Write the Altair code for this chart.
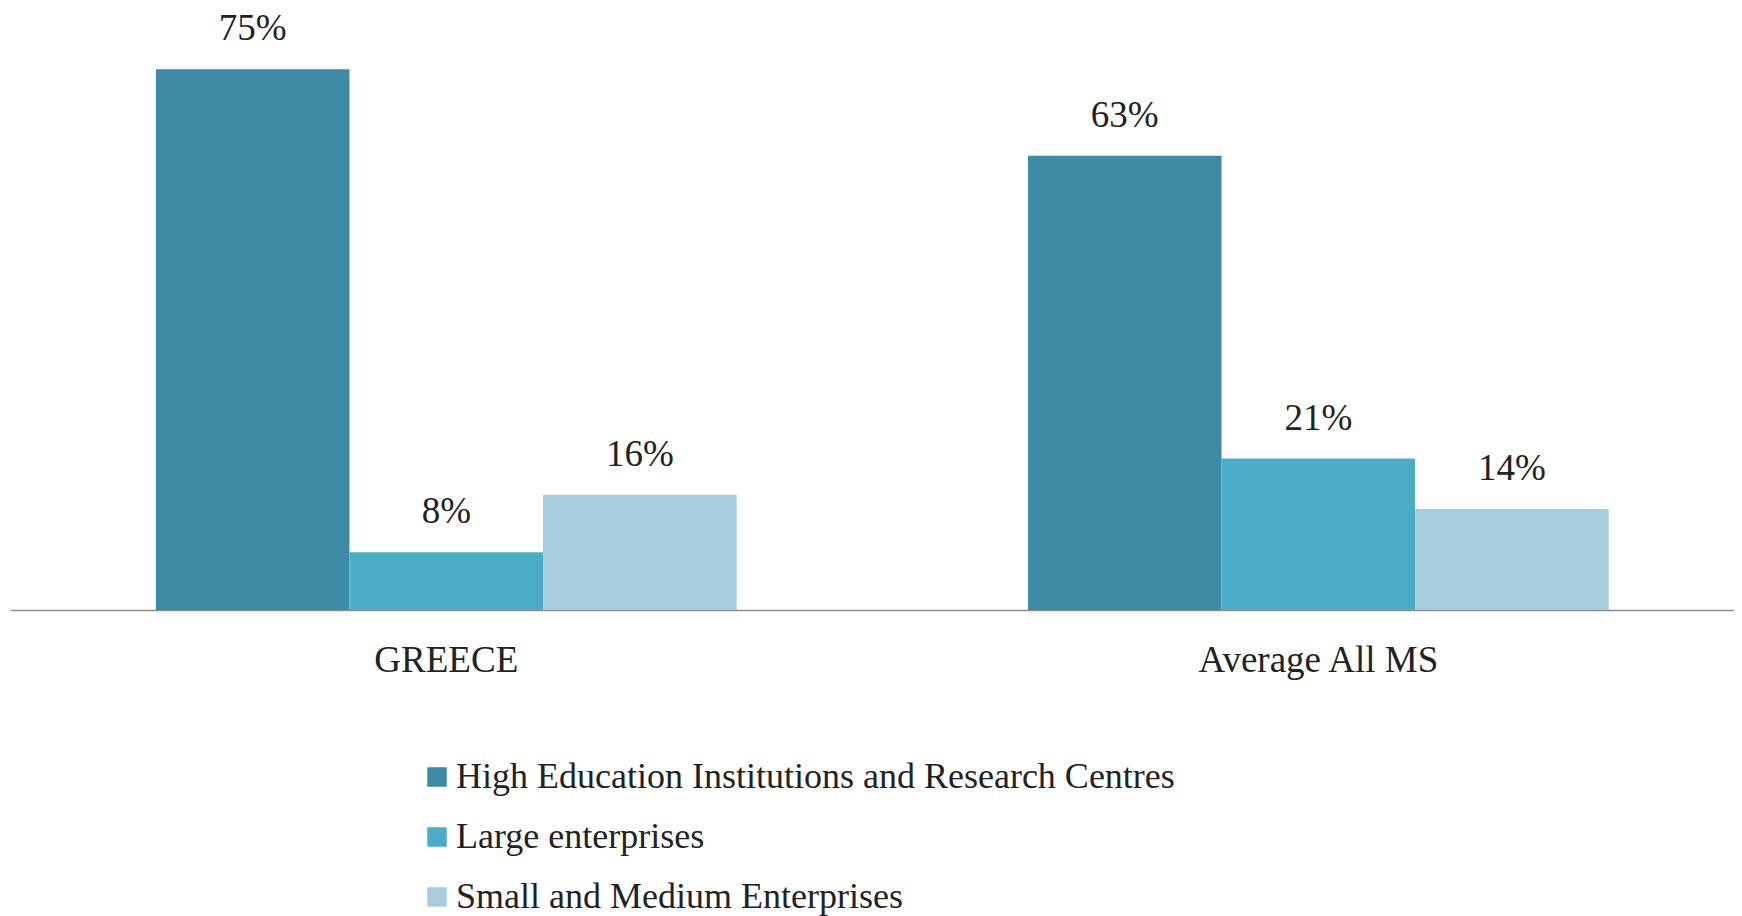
import altair as alt
import pandas as pd

groups = ["GREECE", "Average All MS"]
series = [
    "High Education Institutions and Research Centres",
    "Large enterprises",
    "Small and Medium Enterprises",
]
greece_values = [75, 8, 16]
average_values = [63, 21, 14]
colors = ["#3C8AA3", "#4AACC6", "#A7CDDC"]

rows = []
for g, vals in zip(groups, [greece_values, average_values]):
    for s, v in zip(series, vals):
        rows.append({"group": g, "series": s, "value": v})
df = pd.DataFrame(rows)

FONT = "Liberation Serif"

x_enc = alt.X(
    "group:N",
    sort=groups,
    scale=alt.Scale(paddingInner=0.334, paddingOuter=0.1555, align=0.538),
    axis=alt.Axis(
        title=None,
        labelAngle=0,
        ticks=False,
        tickSize=0,
        labelPadding=32,
        labelFont=FONT,
        labelFontSize=37,
        labelColor="#222222",
        labelLimit=1000,
        domainColor="#8c8c8c",
        domainWidth=1.5,
        grid=False,
    ),
)
xoff_enc = alt.XOffset(
    "series:N", sort=series, scale=alt.Scale(paddingInner=0, paddingOuter=0)
)
y_enc = alt.Y(
    "value:Q", scale=alt.Scale(domain=[0, 83.5], nice=False, zero=True), axis=None
)

base = alt.Chart(df)

bars = base.mark_bar().encode(
    x=x_enc,
    xOffset=xoff_enc,
    y=y_enc,
    color=alt.Color(
        "series:N",
        sort=series,
        scale=alt.Scale(domain=series, range=colors),
        legend=alt.Legend(
            title=None,
            orient="none",
            legendX=409,
            legendY=751,
            direction="vertical",
            symbolType="square",
            symbolSize=380,
            symbolStrokeWidth=0,
            labelFont=FONT,
            labelFontSize=36,
            labelColor="#222222",
            labelOffset=1,
            rowPadding=24,
            padding=0,
            labelLimit=1200,
        ),
    ),
)

labels = base.transform_calculate(
    label="datum.value + '%'"
).mark_text(
    font=FONT, fontSize=37, color="#222222", baseline="alphabetic", dy=-29
).encode(
    x=alt.X("group:N", sort=groups),
    xOffset=alt.XOffset("series:N", sort=series),
    y=alt.Y("value:Q"),
    text="label:N",
)

chart = (
    alt.layer(bars, labels)
    .properties(
        width=1724,
        height=602,
        padding={"left": 2, "top": 0, "right": 0, "bottom": 306},
        autosize=alt.AutoSizeParams(type="none"),
        background="white",
    )
    .configure_view(strokeWidth=0, stroke="transparent")
)

chart.save("out.html", embed_options={"renderer": "svg", "actions": False})
